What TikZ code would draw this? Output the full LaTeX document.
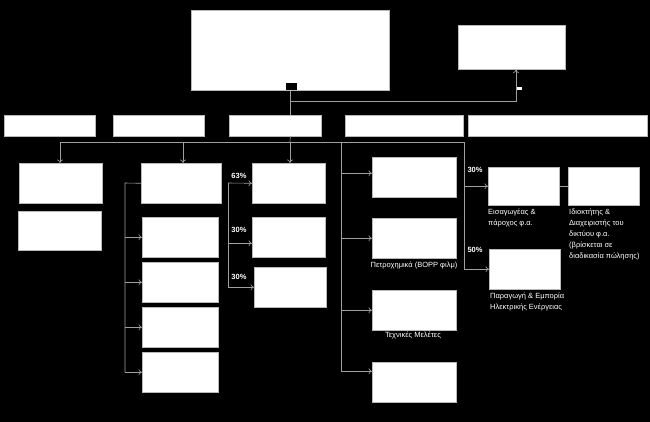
\documentclass[tikz,border=0pt]{standalone}
\usepackage{fontspec}
\setmainfont{Liberation Sans}
\usetikzlibrary{arrows.meta}
\newcommand{\bx}[5]{\node[box,anchor=north west,minimum width=#4pt,minimum height=#5pt] (#1) at (#2,#3) {};}
\begin{document}
\begin{tikzpicture}[x=1pt,y=-1pt,
  box/.style={draw=gray!55, fill=white, line width=0.6pt, inner sep=0pt},
  conn/.style={draw=gray!75, line width=0.6pt},
  arr/.style={conn, -{To[length=3.5pt,width=6pt]}},
  lbl/.style={text=white, font=\fontsize{7.5}{11}\selectfont, inner sep=0pt, align=left},
  pct/.style={text=white, font=\bfseries\fontsize{7.5}{9}\selectfont, inner sep=0pt}]
\fill[black] (0,0) rectangle (650,422);
\useasboundingbox (0,0) rectangle (650,422);
% boxes
\bx{top}{191}{10}{198}{80}
\bx{right}{458}{25}{107}{44}
\bx{ra}{4}{115}{91}{21}
\bx{rb}{113}{115}{91}{21}
\bx{rc}{229}{115}{92}{21}
\bx{rd}{345}{115}{118}{21}
\bx{re}{468}{115}{179}{21}
\bx{L1}{19}{163}{83}{40}
\bx{L2}{18}{211}{83}{39}
\bx{M1}{141}{163}{80}{40}
\bx{M2}{142}{217}{76}{40}
\bx{M3}{142}{262}{76}{40}
\bx{M4}{142}{307}{76}{40}
\bx{M5}{142}{352}{76}{40}
\bx{R1}{252}{163}{73}{40}
\bx{R2}{252}{217}{73}{40}
\bx{R3}{254}{267}{72}{40}
\bx{A}{372}{157}{84}{40}
\bx{B}{372}{218}{84}{40}
\bx{F}{372}{290}{84}{40}
\bx{G}{372}{362}{84}{40}
\bx{C}{488}{167}{71}{38}
\bx{D}{568}{167}{71}{38}
\bx{E}{489}{249}{71}{40}
% small marks
\node[fill=black, inner sep=0pt, minimum width=11pt, minimum height=7pt, anchor=north west] (mark) at (286,83) {};
\node[fill=white, inner sep=0pt, minimum width=6pt, minimum height=2.5pt, anchor=north west] (dash) at (516,87) {};
% coordinates
\coordinate (j1) at (290,101);
\coordinate (j2) at (516,101);
\coordinate (h0) at (290,142);
\coordinate (hl) at (60,142);
\coordinate (hr) at (464,142);
\coordinate (hm) at (183,142);
\coordinate (ht) at (341,142);
\coordinate (mt) at (125,183);
\coordinate (rt) at (228,183);
\coordinate (r2in) at ([yshift=-6pt]R2.west);
\coordinate (ain) at ([yshift=4pt]A.west);
\coordinate (gin) at ([yshift=11pt]G.west);
% top connectors
\draw[conn] (top.south) -- (rc.north -| top.south);
\draw[arr] (j1) -- (j2) -- (right.south -| j2);
\draw[conn] (rc.south -| top.south) -- (h0);
\draw[conn] (hl) -- (hr);
\draw[arr] (hl) -- (L1.north -| hl);
\draw[arr] (hm) -- (M1.north -| hm);
\draw[arr] (h0) -- (R1.north -| h0);
% M trunk
\draw[conn] (M1.west) -- (mt) -- (mt |- M5.west);
\draw[arr] (mt |- M2.west) -- (M2.west);
\draw[arr] (mt |- M3.west) -- (M3.west);
\draw[arr] (mt |- M4.west) -- (M4.west);
\draw[arr] (mt |- M5.west) -- (M5.west);
% R trunk
\draw[conn] (rt) -- (rt |- R3.west);
\draw[arr] (rt) -- (R1.west);
\draw[arr] (rt |- r2in) -- (r2in);
\draw[arr] (rt |- R3.west) -- (R3.west);
% middle trunk
\draw[conn] (ht) -- (ht |- gin);
\draw[arr] (ht |- ain) -- (ain);
\draw[arr] (ht |- B.west) -- (B.west);
\draw[arr] (ht |- F.west) -- (F.west);
\draw[arr] (ht |- gin) -- (gin);
% right trunk
\draw[conn] (hr) -- (hr |- E.west);
\draw[arr] (hr |- C.west) -- (C.west);
\draw[arr] (hr |- E.west) -- (E.west);
\draw[conn] (C.east) -- (D.west);
% percentages
\node[pct] (p1) at (239,176) {63\%};
\node[pct] (p2) at (239,230) {30\%};
\node[pct] (p3) at (239,277) {30\%};
\node[pct] (p4) at (475,170) {30\%};
\node[pct] (p5) at (475,250) {50\%};
% labels
\node[lbl, anchor=north] (tb) at (414,262) {Πετροχημικά (BOPP φιλμ)};
\node[lbl, anchor=north] (tf) at (413,332) {Τεχνικές Μελέτες};
\node[lbl, anchor=north west] (tc) at (488,209) {Εισαγωγέας \&\\πάροχος φ.α.};
\node[lbl, anchor=north west] (td) at (569,209) {Ιδιοκτήτης \&\\Διαχειριστής του\\δικτύου φ.α.\\(βρίσκεται σε\\διαδικασία πώλησης)};
\node[lbl, anchor=north west] (te) at (490,293) {Παραγωγή \& Εμπορία\\Ηλεκτρικής Ενέργειας};
\end{tikzpicture}
\end{document}
